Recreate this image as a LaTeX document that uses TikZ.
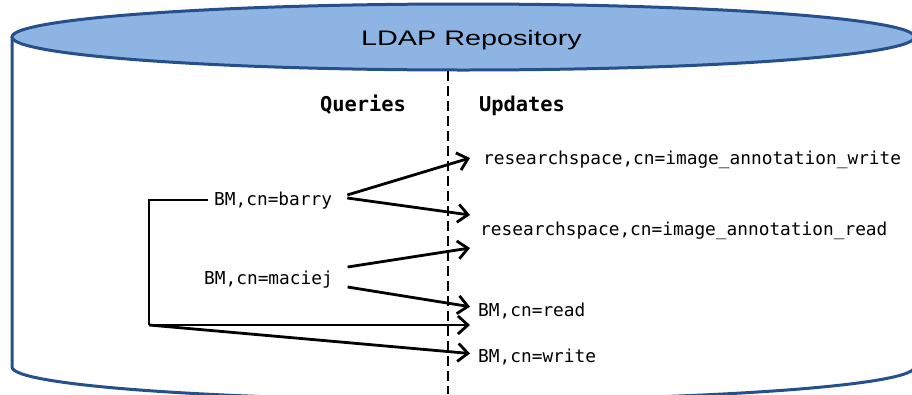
\documentclass[tikz,border=0pt]{standalone}
\usepackage{fontspec}
\setsansfont{Liberation Sans}
\setmonofont{DejaVu Sans Mono}
\usetikzlibrary{arrows.meta}

\definecolor{repoline}{RGB}{38,80,140}
\definecolor{repofill}{RGB}{141,180,226}

\newcommand{\widetext}[1]{\scalebox{1.37}[1]{#1}}

\begin{document}
\begin{tikzpicture}[x=1pt, y=-1pt,
		dn/.style={font=\fontsize{17.8}{20}\selectfont\ttfamily, inner sep=0pt, anchor=base west},
		side/.style={font=\fontsize{20.4}{22}\selectfont\ttfamily\bfseries, inner sep=0pt, anchor=base},
		grant/.style={line width=2.8pt, -{Straight Barb[length=10pt,width=18pt]}}]
			%%%%% START %%%%%
			
			\useasboundingbox (0,0) rectangle (912,394);
			
			% the repository drum
			\begin{scope}
				\clip (0,0) rectangle (912,394);
				\draw[repoline, line width=3pt] (12,37) -- (12,367) arc (180:0:451.25 and 33) -- (914.5,37);
				\draw[repoline, fill=repofill, line width=3pt] (463.25,37) ellipse (451.25 and 33);
			\end{scope}
			\node[font=\fontsize{21}{24}\selectfont\sffamily, inner sep=0pt, anchor=base] (repo) at (471.5,45) {\widetext{LDAP Repository}};
			
			% queries | updates
			\coordinate (divtop) at (448,71);
			\coordinate (divbot) at (448,394);
			\draw[line width=2.4pt, dash pattern=on 10pt off 5pt] (divtop) -- (divbot);
			\node[side] (queries) at (363,111) {Queries};
			\node[side] (updates) at (522,111) {Updates};
			
			% users
			\node[dn] (barry) at (214,205) {BM,cn=barry};
			\node[dn] (maciej) at (204,284) {BM,cn=maciej};
			
			% groups
			\node[dn] (imgw) at (483,164) {researchspace,cn=image\_annotation\_write};
			\node[dn] (imgr) at (480,235) {researchspace,cn=image\_annotation\_read};
			\node[dn] (bmr) at (478,316) {BM,cn=read};
			\node[dn] (bmw) at (478,362) {BM,cn=write};
			
			\draw[grant] ([xshift=15pt,yshift=10pt]barry.base east) -- ([xshift=-13pt,yshift=6pt]imgw.base west);
			\draw[grant] ([xshift=15pt,yshift=7pt]barry.base east) -- ([xshift=-10pt,yshift=20pt]imgr.base west);
			\draw[grant] ([xshift=14.6pt,yshift=17pt]maciej.base east) -- ([xshift=-10pt,yshift=-13pt]imgr.base west);
			\draw[grant] ([xshift=14.6pt,yshift=-3pt]maciej.base east) -- ([xshift=-8pt,yshift=9.3pt]bmr.base west);
			
			\coordinate (fork) at (149,325);
			\draw[line width=2.8pt] ([xshift=-6pt]barry.west) -| (fork);
			\draw[grant] (fork) -- ([xshift=-8pt,yshift=-9pt]bmr.base west);
			\draw[grant] (fork) -- ([xshift=-8pt,yshift=8.5pt]bmw.base west);
			
			%%%%% END %%%%%
\end{tikzpicture}
\end{document}
